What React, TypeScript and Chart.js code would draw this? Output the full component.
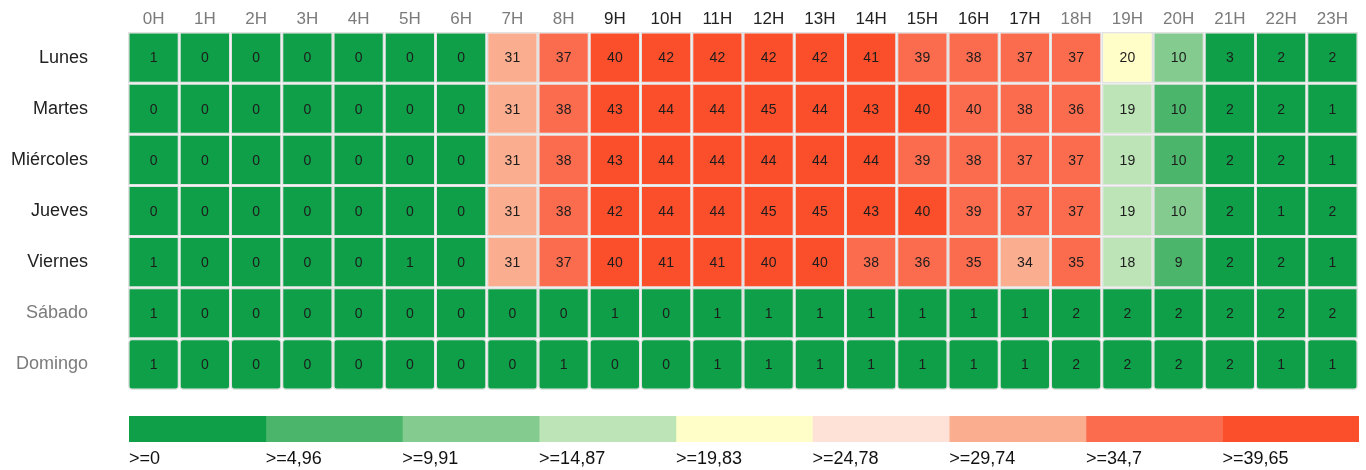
import { useEffect, useRef } from "react";
import { Chart, registerables } from "chart.js";

Chart.register(...registerables);

const hours = ["0H", "1H", "2H", "3H", "4H", "5H", "6H", "7H", "8H", "9H", "10H", "11H", "12H", "13H", "14H", "15H", "16H", "17H", "18H", "19H", "20H", "21H", "22H", "23H"];
const days = ["Lunes", "Martes", "Miércoles", "Jueves", "Viernes", "Sábado", "Domingo"];

const lunes = [1, 0, 0, 0, 0, 0, 0, 31, 37, 40, 42, 42, 42, 42, 41, 39, 38, 37, 37, 20, 10, 3, 2, 2];
const martes = [0, 0, 0, 0, 0, 0, 0, 31, 38, 43, 44, 44, 45, 44, 43, 40, 39.6, 38, 36, 19, 9.8, 2, 2, 1];
const miercoles = [0, 0, 0, 0, 0, 0, 0, 31, 38, 43, 44, 44, 44, 44, 44, 39, 38, 37, 37, 19, 9.8, 2, 2, 1];
const jueves = [0, 0, 0, 0, 0, 0, 0, 31, 38, 42, 44, 44, 45, 45, 43, 40, 39, 37, 37, 19, 10, 2, 1, 2];
const viernes = [1, 0, 0, 0, 0, 1, 0, 31, 37, 40, 41, 41, 40, 40, 38, 36, 35, 34, 35, 18, 9, 2, 2, 1];
const sabado = [1, 0, 0, 0, 0, 0, 0, 0, 0, 1, 0, 1, 1, 1, 1, 1, 1, 1, 2, 2, 2, 2, 2, 2];
const domingo = [1, 0, 0, 0, 0, 0, 0, 0, 1, 0, 0, 1, 1, 1, 1, 1, 1, 1, 2, 2, 2, 2, 1, 1];

const thresholds = [0, 4.96, 9.91, 14.87, 19.83, 24.78, 29.74, 34.7, 39.65];
const scaleMax = 44.6;

const palette = ["#0f9f48", "#4bb56b", "#83cb8f", "#bce4b6", "#fffec8", "#fee2d7", "#fbad8f", "#fb6b4e", "#fb4f2c"];

const FONT = '"Liberation Sans", Arial, Helvetica, sans-serif';
const DARK = "#222222";
const GREY = "#7b7b7b";

function colorFor(v: number): string {
  let idx = 0;
  for (let k = 0; k < thresholds.length; k++) {
    if (v >= thresholds[k]) idx = k;
  }
  return palette[idx];
}

function zeroPad(s: any) {
  s.paddingTop = 0;
  s.paddingBottom = 0;
  s.paddingLeft = 0;
  s.paddingRight = 0;
}

const cellLabels = {
  id: "cellLabels",
  afterDatasetsDraw(chart: any) {
    const ctx = chart.ctx;
    ctx.save();
    ctx.font = `14px ${FONT}`;
    ctx.fillStyle = "#1c1c1c";
    ctx.textAlign = "center";
    ctx.textBaseline = "middle";
    chart.data.datasets.forEach((ds: any, di: number) => {
      const meta = chart.getDatasetMeta(di);
      meta.data.forEach((el: any, i: number) => {
        const p = el.getCenterPoint();
        ctx.fillText(String(Math.round(ds.values[i])), p.x, p.y + 1);
      });
    });
    ctx.restore();
  },
};

export default function App() {
  const mainRef = useRef<HTMLCanvasElement>(null);
  const legRef = useRef<HTMLCanvasElement>(null);

  useEffect(() => {
    const matrix = [lunes, martes, miercoles, jueves, viernes, sabado, domingo];
    const main = new Chart(mainRef.current!, {
      type: "bar",
      data: {
        labels: hours,
        datasets: days.map((d, di) => ({
          label: d,
          data: hours.map(() => 1),
          values: matrix[di],
          backgroundColor: matrix[di].map(colorFor),
          borderColor: "#e2e2e2",
          borderWidth: 1.5,
          borderRadius: 4,
          borderSkipped: false,
          barPercentage: 1,
          categoryPercentage: 1,
          inflateAmount: 0,
        })) as any,
      },
      options: {
        responsive: false,
        animation: false,
        events: [],
        layout: { autoPadding: false, padding: { left: 0, right: 8, top: 0, bottom: 2 } },
        plugins: { legend: { display: false }, tooltip: { enabled: false } },
        scales: {
          x: {
            type: "category",
            position: "top",
            stacked: true,
            grid: { display: false, drawTicks: false },
            border: { display: false },
            ticks: {
              padding: 2,
              autoSkip: false,
              maxRotation: 0,
              font: { size: 17, family: FONT },
              color: (c: any) => (c.index >= 9 && c.index <= 17 ? DARK : GREY),
            },
            afterFit: (s: any) => {
              s.height = 32;
              zeroPad(s);
            },
          },
          y: {
            type: "linear",
            min: 0,
            max: 7,
            reverse: true,
            stacked: true,
            grid: { display: false, drawTicks: false },
            border: { display: false },
            afterBuildTicks: (s: any) => {
              s.ticks = days.map((_, i) => ({ value: i + 0.5 }));
            },
            ticks: {
              padding: 40,
              autoSkip: false,
              font: { size: 18, family: FONT },
              callback: (v: any) => days[Math.floor(Number(v))],
              color: (c: any) => (c.index < 5 ? DARK : GREY),
            },
            afterFit: (s: any) => {
              s.width = 128;
              zeroPad(s);
            },
          },
        },
      } as any,
      plugins: [cellLabels],
    });

    const widths = thresholds.map((t, i) => (i < thresholds.length - 1 ? thresholds[i + 1] : scaleMax) - t);
    const legend = new Chart(legRef.current!, {
      type: "bar",
      data: {
        labels: [""],
        datasets: widths.map((w, i) => ({
          label: String(thresholds[i]),
          data: [w],
          backgroundColor: palette[i],
          borderWidth: 0,
          barPercentage: 1,
          categoryPercentage: 1,
        })),
      },
      options: {
        indexAxis: "y",
        responsive: false,
        animation: false,
        events: [],
        layout: { autoPadding: false, padding: { left: 129, right: 7, top: 16, bottom: 0 } },
        plugins: { legend: { display: false }, tooltip: { enabled: false } },
        scales: {
          x: {
            type: "linear",
            min: 0,
            max: scaleMax,
            stacked: true,
            position: "bottom",
            grid: { display: false, drawTicks: false },
            border: { display: false },
            afterBuildTicks: (s: any) => {
              s.ticks = thresholds.map((t) => ({ value: t }));
            },
            ticks: {
              align: "start",
              padding: 6,
              autoSkip: false,
              maxRotation: 0,
              color: "#111111",
              font: { size: 18, family: FONT },
              callback: (v: any) => ">=" + String(v).replace(".", ","),
            },
            afterFit: (s: any) => {
              s.height = 28;
              zeroPad(s);
            },
          },
          y: { display: false, stacked: true },
        },
      } as any,
    });

    return () => {
      main.destroy();
      legend.destroy();
    };
  }, []);

  return (
    <div style={{ position: "fixed", left: 0, top: 0, width: 1366, height: 470, background: "#ffffff" }}>
      <canvas ref={mainRef} width={1366} height={392} style={{ position: "absolute", left: 0, top: 0, display: "block" }} />
      <canvas ref={legRef} width={1366} height={70} style={{ position: "absolute", left: 0, top: 400, display: "block" }} />
    </div>
  );
}
